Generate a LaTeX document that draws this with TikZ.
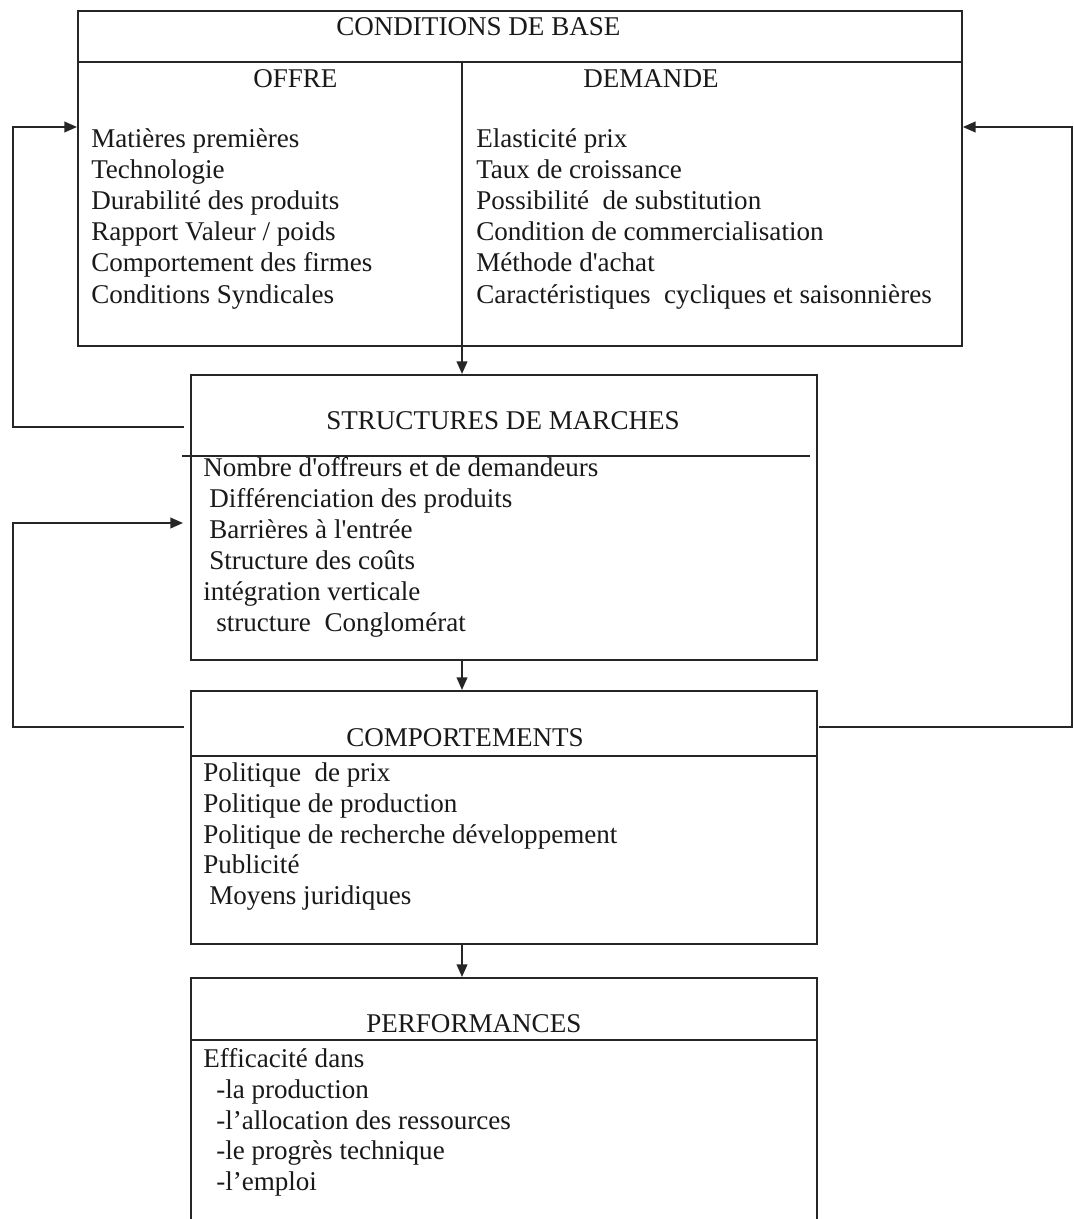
\documentclass[tikz,border=0pt]{standalone}
\usepackage{fontspec}
\setmainfont{Liberation Serif}
\usetikzlibrary{arrows.meta}
\begin{document}
\begin{tikzpicture}[x=0.75pt,y=-0.75pt,
  box/.style={draw=black!85, line width=1.4pt, anchor=north west, inner sep=0pt},
  ln/.style={draw=black!85, line width=1.4pt},
  arr/.style={ln, -{Triangle[length=9.5pt,width=8pt]}},
  txt/.style={anchor=base west, inner sep=0pt, text=black!90, font=\fontsize{20.3}{23}\selectfont}]
\useasboundingbox (0,0) rectangle (1073,1219);

% boxes
\node[box, minimum width=663pt, minimum height=251.25pt] (cb) at (77,10) {};
\node[box, minimum width=469.5pt, minimum height=213.75pt] (sm) at (190,374) {};
\node[box, minimum width=469.5pt, minimum height=189.75pt] (cp) at (190,690) {};
\node[box, minimum width=469.5pt, minimum height=200pt] (pf) at (190,977) {};

% header lines
\coordinate (cbh) at (77,62);
\draw[ln] (cbh) -- (cbh -| cb.east);
\coordinate (smhl) at (182,456);
\coordinate (smhr) at (810,456);
\draw[ln] (smhl) -- (smhr);
\coordinate (cph) at (190,756);
\draw[ln] (cph) -- (cph -| cp.east);
\coordinate (pfh) at (190,1040);
\draw[ln] (pfh) -- (pfh -| pf.east);

% titles
\node[txt] (t-cb) at (336,36) {CONDITIONS DE BASE};
\node[txt] (t-of) at (253,88) {OFFRE};
\node[txt] (t-de) at (583,88) {DEMANDE};
\node[txt] (t-sm) at (326,429) {STRUCTURES DE MARCHES};
\node[txt] (t-cp) at (346,746) {COMPORTEMENTS};
\node[txt] (t-pf) at (366,1032) {PERFORMANCES};

% offre
\foreach \t [count=\i] in {Matières premières, Technologie, Durabilité des produits,
  Rapport Valeur / poids, Comportement des firmes, Conditions Syndicales}
  \node[txt] (of-\i) at (91,{148+31*(\i-1)}) {\t};
% demande
\foreach \t [count=\i] in {Elasticité prix, Taux de croissance, Possibilité\ \ de substitution,
  Condition de commercialisation, Méthode d\textquotesingle achat,
  Caractéristiques\ \ cycliques et saisonnières}
  \node[txt] (de-\i) at (476,{148+31*(\i-1)}) {\t};

% structures
\node[txt] (sm-1) at (203,476) {Nombre d\textquotesingle offreurs et de demandeurs};
\node[txt] (sm-2) at (209,507) {Différenciation des produits};
\node[txt] (sm-3) at (209,538) {Barrières à l\textquotesingle entrée};
\node[txt] (sm-4) at (209,569) {Structure des coûts};
\node[txt] (sm-5) at (203,600) {intégration verticale};
\node[txt] (sm-6) at (216,631) {structure\ \ Conglomérat};

% comportements
\node[txt] (cp-1) at (203,781) {Politique\ \ de prix};
\node[txt] (cp-2) at (203,812) {Politique de production};
\node[txt] (cp-3) at (203,843) {Politique de recherche développement};
\node[txt] (cp-4) at (203,873) {Publicité};
\node[txt] (cp-5) at (209,904) {Moyens juridiques};

% performances
\node[txt] (pf-1) at (203,1067) {Efficacité dans};
\node[txt] (pf-2) at (216,1098) {-la production};
\node[txt] (pf-3) at (216,1129) {-l’allocation des ressources};
\node[txt] (pf-4) at (216,1159) {-le progrès technique};
\node[txt] (pf-5) at (216,1190) {-l’emploi};

% vertical divider and down arrows
\coordinate (div) at (462,62);
\draw[arr] (div) -- (div |- sm.north);
\draw[arr] (sm.south -| div) -- (cp.north -| div);
\draw[arr] (cp.south -| div) -- (pf.north -| div);

% feedback loops
\coordinate (fa) at (184,427);
\coordinate (fac) at (13,127);
\draw[arr] (fa) -| (fac) -- (fac -| cb.west);

\coordinate (fb) at (184,727);
\coordinate (fbc) at (13,523);
\coordinate (fbe) at (183,523);
\draw[arr] (fb) -| (fbc) -- (fbe);

\coordinate (fc) at (819,727);
\coordinate (fcc) at (1072,127);
\draw[arr] (fc) -| (fcc) -- (fcc -| cb.east);
\end{tikzpicture}
\end{document}
